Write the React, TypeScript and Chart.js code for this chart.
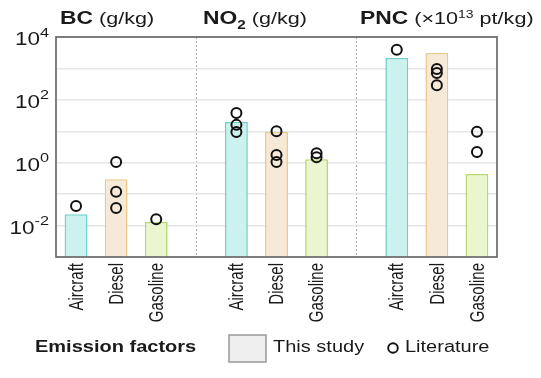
import React, { useEffect, useRef } from 'react';
import { Chart, registerables } from 'chart.js';

Chart.register(...registerables);

// ---- data ----
const categories = ['Aircraft', 'Diesel', 'Gasoline', '', 'Aircraft', 'Diesel', 'Gasoline', '', 'Aircraft', 'Diesel', 'Gasoline'];
// bars: "This study"
const thisStudy = [0.023, 0.3, 0.013, null, 20, 9.5, 1.3, null, 2150, 3100, 0.44];
// circles: "Literature"
const literatureA = [0.042, 1.05, 0.016, null, 38, 10, 2.0, null, 3900, 960, 9.6];
const literatureB = [null, 0.12, null, null, 16, 1.76, 1.5, null, null, 710, 2.2];
const literatureC = [null, 0.036, null, null, 9.5, 1.05, null, null, null, 290, null];
const yTickExponents = [4, 2, 0, -2];
const yGridExponents = [-3, -2, -1, 0, 1, 2, 3, 4];

const FONT = '"Liberation Sans", Arial, Helvetica, sans-serif';
const TEXT = '#1a1a1a';
const SX = 1.25; // horizontal text stretch seen in the reference
const fillBySource: Record<string, string> = { Aircraft: '#cbf2ef', Diesel: '#f7e9d8', Gasoline: '#e9f6cf', '': 'transparent' };
const borderBySource: Record<string, string> = { Aircraft: '#6cd2c9', Diesel: '#eac98c', Gasoline: '#b6d86f', '': 'transparent' };

type Seg = { t: string; bold?: boolean; size: number; dy?: number };
const titles: { x: number; segs: Seg[] }[] = [
  { x: 60, segs: [{ t: 'BC', bold: true, size: 18 }, { t: ' (g/kg)', size: 17 }] },
  { x: 203, segs: [{ t: 'NO', bold: true, size: 18 }, { t: '2', bold: true, size: 12, dy: 5 }, { t: ' (g/kg)', size: 17 }] },
  { x: 360, segs: [{ t: 'PNC', bold: true, size: 18 }, { t: ' (\u00d710', size: 17 }, { t: '13', size: 11, dy: -6 }, { t: ' pt/kg)', size: 17 }] },
];

function stretchText(ctx: CanvasRenderingContext2D, t: string, x: number, y: number, sx: number) {
  ctx.save();
  ctx.translate(x, y);
  ctx.scale(sx, 1);
  ctx.fillText(t, 0, 0);
  ctx.restore();
  return ctx.measureText(t).width * sx;
}

const decorPlugin = {
  id: 'decor',
  afterDatasetsDraw(chart: any) {
    const { ctx, chartArea: a } = chart;
    ctx.save();
    ctx.strokeStyle = '#6a6a6a';
    ctx.lineWidth = 1.7;
    ctx.strokeRect(a.left, a.top, a.right - a.left, a.bottom - a.top);
    ctx.restore();
  },
  afterDraw(chart: any) {
    const { ctx, chartArea: a } = chart;
    const y = chart.scales.y;
    const x = chart.scales.x;
    ctx.save();
    ctx.fillStyle = TEXT;
    // y tick labels with superscripts
    yTickExponents.forEach((e) => {
      const py = y.getPixelForValue(Math.pow(10, e));
      const expStr = e < 0 ? '-' + Math.abs(e) : String(e);
      const right = a.left - 7;
      ctx.font = `13px ${FONT}`;
      const ew = ctx.measureText(expStr).width * SX;
      ctx.textBaseline = 'middle';
      ctx.textAlign = 'left';
      stretchText(ctx, expStr, right - ew, py - 4, SX);
      ctx.font = `18px ${FONT}`;
      const dw = ctx.measureText('10').width * SX;
      stretchText(ctx, '10', right - ew - dw, py + 3, SX);
    });
    // x category labels (rotated)
    ctx.font = `15px ${FONT}`;
    ctx.textAlign = 'right';
    ctx.textBaseline = 'middle';
    categories.forEach((c, i) => {
      if (!c) return;
      const px = x.getPixelForValue(i);
      ctx.save();
      ctx.translate(px + 1, a.bottom + 6);
      ctx.rotate(-Math.PI / 2);
      ctx.scale(1, 1.38);
      ctx.fillText(c, 0, 0);
      ctx.restore();
    });
    // titles
    ctx.textAlign = 'left';
    ctx.textBaseline = 'alphabetic';
    titles.forEach((tt) => {
      let cx = tt.x;
      tt.segs.forEach((s) => {
        ctx.font = `${s.bold ? 'bold ' : ''}${s.size}px ${FONT}`;
        cx += stretchText(ctx, s.t, cx, 24 + (s.dy || 0), 1.27);
      });
    });
    // legend
    const ly = 348;
    ctx.textBaseline = 'middle';
    ctx.font = `bold 16px ${FONT}`;
    stretchText(ctx, 'Emission factors', 35, ly, SX);
    ctx.fillStyle = '#efefef';
    ctx.fillRect(229, ly - 13, 37, 27);
    ctx.strokeStyle = '#999';
    ctx.lineWidth = 1.5;
    ctx.strokeRect(229, ly - 13, 37, 27);
    ctx.fillStyle = TEXT;
    ctx.font = `16px ${FONT}`;
    stretchText(ctx, 'This study', 273, ly, SX);
    ctx.beginPath();
    ctx.arc(393, ly, 4.8, 0, Math.PI * 2);
    ctx.strokeStyle = '#111';
    ctx.lineWidth = 1.9;
    ctx.stroke();
    stretchText(ctx, 'Literature', 405, ly, SX);
    ctx.restore();
  },
};

const pointDataset = (data: (number | null)[]) => ({
  type: 'line' as const,
  data,
  showLine: false,
  order: 0,
  pointStyle: 'circle',
  pointRadius: 5,
  pointBorderWidth: 2,
  pointBorderColor: '#111',
  pointBackgroundColor: 'rgba(0,0,0,0)',
  pointHoverRadius: 5,
});

export default function App() {
  const ref = useRef<HTMLCanvasElement | null>(null);
  useEffect(() => {
    if (!ref.current) return;
    const chart = new Chart(ref.current, {
      type: 'bar',
      data: {
        labels: categories,
        datasets: [
          {
            type: 'bar',
            label: 'This study',
            data: thisStudy,
            order: 1,
            backgroundColor: categories.map((c) => fillBySource[c]),
            borderColor: categories.map((c) => borderBySource[c]),
            borderWidth: 1.6,
            barPercentage: 0.57,
            categoryPercentage: 1,
          } as any,
          pointDataset(literatureA) as any,
          pointDataset(literatureB) as any,
          pointDataset(literatureC) as any,
        ],
      },
      options: {
        responsive: false,
        animation: false,
        devicePixelRatio: 1,
        layout: { padding: { top: 37, left: 56, right: 44, bottom: 60 } },
        plugins: { legend: { display: false }, tooltip: { enabled: false } },
        scales: {
          x: {
            type: 'category',
            offset: true,
            grid: {
              offset: false,
              drawTicks: false,
              color: (c: any) => (categories[c.index] === '' ? '#a8a8a8' : 'rgba(0,0,0,0)'),
              lineWidth: 1,
            },
            border: { display: false, dash: [2, 2] },
            ticks: { display: false, autoSkip: false },
            afterFit: (s: any) => {
              s.height = 61;
            },
          },
          y: {
            type: 'logarithmic',
            min: 1e-3,
            max: 1e4,
            afterBuildTicks: (s: any) => {
              s.ticks = yGridExponents.map((e) => ({ value: Math.pow(10, e) }));
            },
            grid: { color: '#e6e6e6', lineWidth: 1.5, drawTicks: false },
            border: { display: false },
            ticks: { display: false },
            afterFit: (s: any) => {
              s.width = 0;
            },
          },
        },
      },
      plugins: [decorPlugin],
    });
    return () => chart.destroy();
  }, []);
  return (
    <div style={{ position: 'fixed', left: 0, top: 0, width: 541, height: 378, background: '#fff' }}>
      <canvas ref={ref} width={541} height={378} />
    </div>
  );
}
